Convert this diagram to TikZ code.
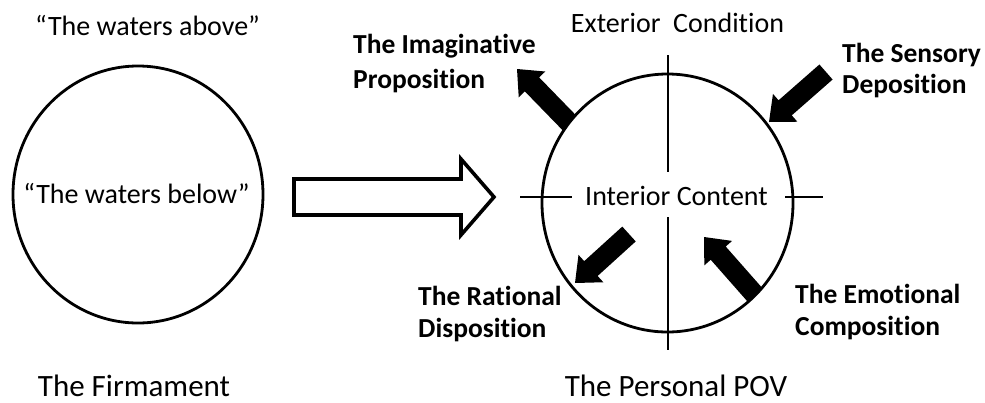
\documentclass[tikz,border=0pt]{standalone}
\usepackage{fontspec}
\setmainfont{Carlito}[Ligatures=NoCommon]
\usetikzlibrary{calc}
\newcommand\BlkArrow[2]{%
  \coordinate (ba-t) at (#1);
  \coordinate (ba-p) at (#2);
  \coordinate (ba-h) at ($(ba-p)!21.5pt!(ba-t)$);
  \fill ($(ba-t)!10pt!90:(ba-p)$) -- ($(ba-h)!10pt!90:(ba-p)$) -- ($(ba-h)!18.5pt!90:(ba-p)$)
    -- (ba-p) -- ($(ba-h)!18.5pt!-90:(ba-p)$) -- ($(ba-h)!10pt!-90:(ba-p)$)
    -- ($(ba-t)!10pt!-90:(ba-p)$) -- cycle;
}
\tikzset{
  reg/.style={font=\fontsize{28}{34}\selectfont, inner sep=0pt},
  big/.style={font=\fontsize{31}{36}\selectfont, inner sep=0pt},
  lbl/.style={font=\bfseries\fontsize{27.5}{32}\selectfont, align=left, inner sep=0pt},
  ring/.style={line width=2.8pt},
  cross/.style={line width=2.6pt},
  hollow/.style={line width=3.6pt, line join=miter, fill=white},
}
\begin{document}
\begin{tikzpicture}[x=1pt,y=-1pt]
\useasboundingbox (0,0) rectangle (985,402);
\coordinate (fc) at (138,194.5);
\coordinate (pc) at (667.5,203);
% arrows around the POV circle
\BlkArrow{577.4,131.1}{517,69}
\begin{scope}
  \clip (552,100) rectangle (600,150);
  \fill[white] (pc) ellipse [x radius=125.5pt, y radius=129pt];
\end{scope}
\begin{scope}
  \clip (pc) ellipse [x radius=125.5pt, y radius=129pt];
  \BlkArrow{763.9,305}{704,237}
\end{scope}
\BlkArrow{629,234}{575,283}
\BlkArrow{826,72}{769,122}
% circles
\draw[ring] (fc) ellipse [x radius=125pt, y radius=128.5pt];
\draw[ring] (pc) ellipse [x radius=125.5pt, y radius=129pt];
% cross
\draw[cross] (668,55) -- (668,172);
\draw[cross] (668,217) -- (668,350);
\draw[cross] (520,197) -- (572,197);
\draw[cross] (785,197) -- (823,197);
% hollow arrow
\draw[hollow] (294,179) -- (461,179) -- (461,159) -- (494,197) -- (461,235) -- (461,215) -- (294,215) -- cycle;
% texts
\node[reg, anchor=base] (above) at (147.5,35) {“The waters above”};
\node[reg, anchor=base] (below) at (136.5,203) {“The waters below”};
\node[big, anchor=base] (firm) at (134,396.5) {The Firmament};
\node[big, anchor=base] (pov) at (676,396.5) {The Personal POV};
\node[reg, anchor=base] (ext) at (677.5,32) {Exterior\ \ Condition};
\node[reg, anchor=base] (int) at (676.5,205) {Interior Content};
\node[lbl, anchor=base west] (imag) at (353,88) {The Imaginative\\[3pt]Proposition};
\node[lbl, anchor=base west] (rat) at (418,337) {The Rational\\Disposition};
\node[lbl, anchor=base west] (sens) at (842,93) {The Sensory\\[-1pt]Deposition};
\node[lbl, anchor=base west] (emo) at (795,335) {The Emotional\\Composition};
\end{tikzpicture}
\end{document}
